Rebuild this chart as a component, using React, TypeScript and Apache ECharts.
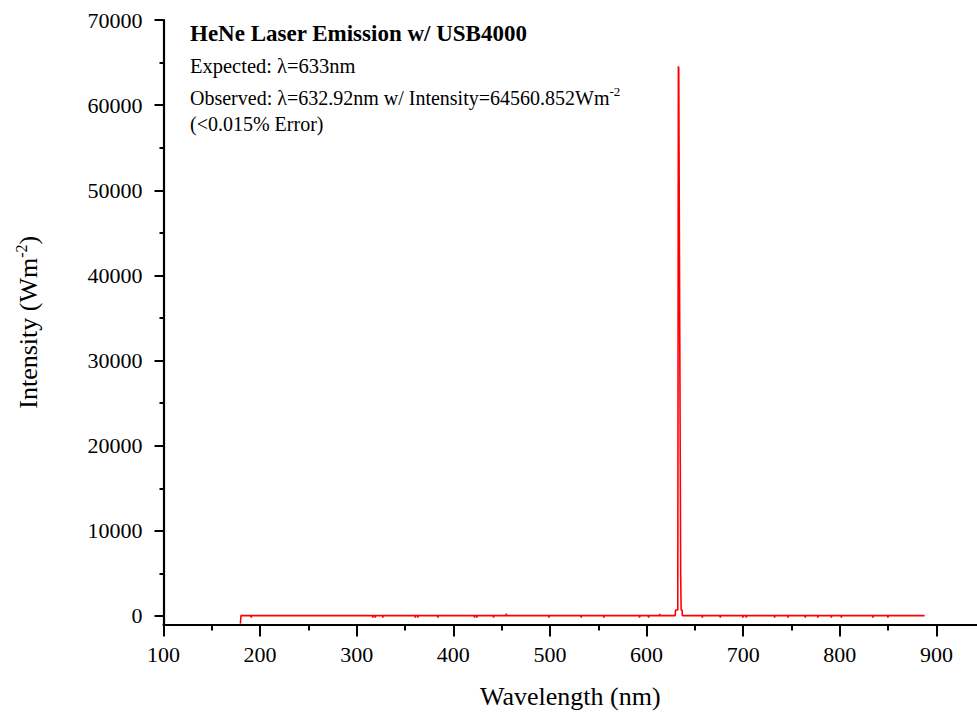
import React, { useEffect, useRef } from "react";
import * as echarts from "echarts";

// Spectrum (wavelength in nm, intensity in W m^-2)
const wavelengthNm = [
  179.6, 180.2, 190.5, 190.8, 191.1,
  316.4, 316.7, 317.0, 318.9, 319.2, 319.5, 326.7, 327.0, 327.3,
  360.3, 360.6, 360.9, 363.0, 363.3, 363.6, 383.7, 384.0, 384.3,
  421.6, 421.9, 422.2, 424.0, 424.3, 424.6, 441.3, 441.6, 441.9,
  454.5, 454.8, 455.1, 498.6, 498.9, 499.2, 532.1, 532.4, 532.7,
  555.5, 555.8, 556.1, 592.4, 592.7, 593.0, 601.8, 602.1, 602.4,
  613.2, 613.5, 613.8,
  629.6, 630.0, 632.3, 632.92, 633.3, 635.3, 635.8, 636.8, 637.0,
  657.4, 657.7, 658.0, 676.0, 676.3, 676.6, 699.4, 699.7, 700.0,
  702.9, 703.2, 703.5, 732.2, 732.5, 732.8, 746.0, 746.3, 746.6,
  764.0, 764.3, 764.6, 777.0, 777.3, 777.6, 790.9, 791.2, 791.5,
  801.3, 801.6, 801.9, 834.0, 834.3, 834.6, 849.5, 849.8, 850.1,
  887.8,
];
const intensity = [
  -900, 40, 40, -180, 40,
  40, -180, 40, 40, -180, 40, 40, -180, 40,
  40, -180, 40, 40, -180, 40, 40, -180, 40,
  40, -180, 40, 40, -180, 40, 40, -180, 40,
  40, 280, 40, 40, -180, 40, 40, -180, 40,
  40, -180, 40, 40, -180, 40, 40, -180, 40,
  40, 250, 40,
  40, 700, 700, 64560, 64300, 4570, 700, 700, 40,
  40, -180, 40, 40, -180, 40, 40, -180, 40,
  40, -180, 40, 40, -180, 40, 40, -180, 40,
  40, -180, 40, 40, -180, 40, 40, -180, 40,
  40, -180, 40, 40, -180, 40, 40, -180, 40,
  40,
];

const xMajorTicks = [100, 200, 300, 400, 500, 600, 700, 800, 900];
const xMinorTicks = [150, 250, 350, 450, 550, 650, 750, 850];
const yMajorTicks = [0, 10000, 20000, 30000, 40000, 50000, 60000, 70000];
const yMinorTicks = [5000, 15000, 25000, 35000, 45000, 55000, 65000];

const titleLines = {
  title: "HeNe Laser Emission w/ USB4000",
  expected: "Expected: λ=633nm",
  observed: "Observed: λ=632.92nm w/ Intensity=64560.852Wm",
  error: "(<0.015% Error)",
};

const FONT = "'Liberation Serif', 'Times New Roman', serif";

export default function App() {
  const ref = useRef<HTMLDivElement>(null);

  useEffect(() => {
    if (!ref.current) return;
    const chart = echarts.init(ref.current, null, { renderer: "svg" });
    const data = wavelengthNm.map((w, i) => [w, intensity[i]]);

    const axisLineStyle = { color: "#000", width: 2.2 };

    chart.setOption({
      animation: false,
      backgroundColor: "#fff",
      grid: { left: 163.5, right: 0, top: 20, bottom: 90.5, containLabel: false },
      xAxis: [
        {
          type: "value",
          min: 100,
          max: 942,
          splitLine: { show: false },
          axisLine: { show: true, onZero: false, lineStyle: axisLineStyle },
          axisTick: {
            show: true,
            inside: false,
            length: 12,
            customValues: xMajorTicks,
            lineStyle: { color: "#000", width: 2 },
          },
          axisLabel: {
            customValues: xMajorTicks,
            margin: 19,
            fontSize: 22,
            fontFamily: FONT,
            color: "#000",
            formatter: (v: number) => String(v),
          },
          name: "Wavelength (nm)",
          nameLocation: "middle",
          nameGap: 59,
          nameTextStyle: { fontSize: 26, fontFamily: FONT, color: "#000" },
        },
        {
          type: "value",
          min: 100,
          max: 942,
          position: "bottom",
          splitLine: { show: false },
          axisLine: { show: false, onZero: false },
          axisTick: {
            show: true,
            length: 6,
            customValues: xMinorTicks,
            lineStyle: { color: "#000", width: 2 },
          },
          axisLabel: { show: false },
        },
      ],
      yAxis: [
        {
          type: "value",
          min: -1000,
          max: 70000,
          splitLine: { show: false },
          axisLine: { show: true, onZero: false, lineStyle: axisLineStyle },
          axisTick: {
            show: true,
            length: 9,
            customValues: yMajorTicks,
            lineStyle: { color: "#000", width: 2 },
          },
          axisLabel: {
            customValues: yMajorTicks,
            margin: 21,
            fontSize: 22,
            fontFamily: FONT,
            color: "#000",
            formatter: (v: number) => String(v),
          },
          name: "{a|Intensity (Wm}{s|-2}{a|)}",
          nameLocation: "middle",
          nameGap: 120,
          nameTextStyle: {
            fontFamily: FONT,
            color: "#000",
            rich: {
              a: { fontSize: 26, fontFamily: FONT, color: "#000", lineHeight: 30 },
              s: { fontSize: 16, fontFamily: FONT, color: "#000", verticalAlign: "top", lineHeight: 30 },
            },
          },
        },
        {
          type: "value",
          min: -1000,
          max: 70000,
          position: "left",
          splitLine: { show: false },
          axisLine: { show: false, onZero: false },
          axisTick: {
            show: true,
            length: 4,
            customValues: yMinorTicks,
            lineStyle: { color: "#000", width: 2 },
          },
          axisLabel: { show: false },
        },
      ],
      series: [
        {
          type: "line",
          xAxisIndex: 0,
          yAxisIndex: 0,
          data,
          showSymbol: false,
          symbol: "none",
          lineStyle: { color: "#ff0000", width: 1.6 },
        },
      ],
      graphic: [
        {
          type: "text",
          x: 190,
          y: 33,
          style: {
            text: titleLines.title,
            fontSize: 23,
            fontWeight: "bold",
            fontFamily: FONT,
            fill: "#000",
            verticalAlign: "middle",
          },
        },
        {
          type: "text",
          x: 190,
          y: 66,
          style: {
            text: titleLines.expected,
            fontSize: 20.5,
            fontFamily: FONT,
            fill: "#000",
            verticalAlign: "middle",
          },
        },
        {
          type: "text",
          x: 190,
          y: 98,
          style: {
            text: "{a|" + titleLines.observed + "}{s|-2}",
            fontFamily: FONT,
            fill: "#000",
            verticalAlign: "middle",
            rich: {
              a: { fontSize: 20, fontFamily: FONT, fill: "#000", lineHeight: 26 },
              s: { fontSize: 13, fontFamily: FONT, fill: "#000", verticalAlign: "top", lineHeight: 26 },
            },
          },
        },
        {
          type: "text",
          x: 190,
          y: 124,
          style: {
            text: titleLines.error,
            fontSize: 20,
            fontFamily: FONT,
            fill: "#000",
            verticalAlign: "middle",
          },
        },
      ],
    });

    return () => chart.dispose();
  }, []);

  return (
    <div
      ref={ref}
      style={{ position: "fixed", left: 0, top: 0, width: 977, height: 715, background: "#fff" }}
    />
  );
}
